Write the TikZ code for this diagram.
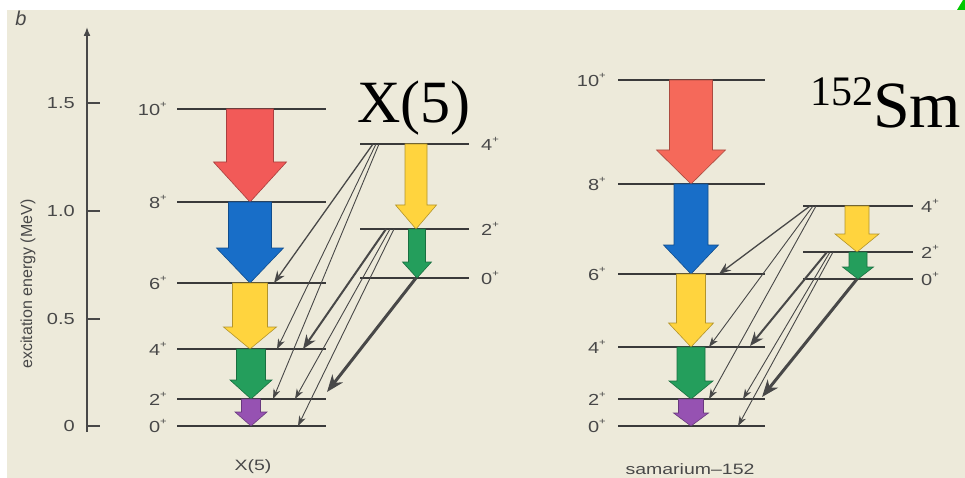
\documentclass[tikz,border=0pt]{standalone}
\usepackage{fontspec}
\setmainfont{Liberation Serif}
\newfontfamily\labfont[FakeStretch=1.25]{Liberation Sans}
\newfontfamily\botfont[FakeStretch=1.3]{Liberation Sans}
\newfontfamily\axfont{Liberation Sans}
\usetikzlibrary{arrows.meta}
\definecolor{paper}{RGB}{237,234,218}
\definecolor{ink}{RGB}{72,72,72}
\definecolor{lvl}{RGB}{58,58,58}
\definecolor{cred}{RGB}{242,90,88}
\definecolor{cred2}{RGB}{245,105,90}
\definecolor{cblue}{RGB}{24,110,200}
\definecolor{cyel}{RGB}{255,212,62}
\definecolor{cgrn}{RGB}{36,158,92}
\definecolor{cpur}{RGB}{150,82,178}
\definecolor{cgreen}{RGB}{0,200,0}
\newcommand\plus{\raisebox{0.5em}{\fontsize{9}{9}\selectfont +}}
\newcommand\bigarr[7]{%
  \filldraw[fill=#7, draw=#7!70!black, line width=0.6pt, line join=miter]
    (#1-#4,#2) -- (#1+#4,#2) -- (#1+#4,#6) -- (#1+#5,#6) -- (#1,#3)
    -- (#1-#5,#6) -- (#1-#4,#6) -- cycle;}
\tikzset{
  level/.style={draw=lvl, line width=1.9pt},
  axisline/.style={draw=ink, line width=1.6pt},
  ticklab/.style={font=\labfont\fontsize{16}{16}\selectfont, text=ink, inner sep=0pt, anchor=east},
  lvlab/.style={font=\labfont\fontsize{16}{16}\selectfont, text=ink, inner sep=0pt},
  botlab/.style={font=\botfont\fontsize{15}{15}\selectfont, text=ink, inner sep=0pt},
  thinarr/.style={draw=ink, line width=0.9pt, -{Stealth[length=10pt,width=7pt,inset=3pt]}},
  medarr/.style={draw=ink, line width=1.3pt, -{Stealth[length=12pt,width=9pt,inset=4pt]}},
  thickarr/.style={draw=ink, line width=2pt, -{Stealth[length=14pt,width=11pt,inset=4.5pt]}},
  vthickarr/.style={draw=ink, line width=3pt, -{Stealth[length=17pt,width=13pt,inset=5pt]}},
}
\begin{document}
\begin{tikzpicture}[x=1pt,y=-1pt]
\useasboundingbox (0,0) rectangle (965,478);
\fill[white] (0,0) rectangle (965,478);
\fill[paper] (7,10) rectangle (965,478);
\fill[cgreen] (957,10) -- (963,0) -- (965,0) -- (965,10) -- cycle;

% panel letter
\node[font=\axfont\itshape\fontsize{20}{20}\selectfont, text=ink, inner sep=0pt] (panelb) at (21,18) {b};

% axis
\coordinate (axbot) at (87,432);
\coordinate (axtop) at (87,27);
\draw[axisline, -{Latex[length=9pt,width=7pt]}] (axbot) -- (axtop);
\foreach \v/\y in {1.5/103, 1.0/211, 0.5/319, 0/426}{
  \draw[axisline] (87,\y) -- (100,\y);
  \node[ticklab] at (75,\y) {\v};
}
\node[rotate=90, font=\axfont\fontsize{16}{16}\selectfont, text=ink, inner sep=0pt] (ylab) at (28,284) {excitation energy (MeV)};

% ===== X(5) ground band =====
\foreach \j/\y in {10/109, 8/202, 6/283, 4/349, 2/399, 0/426}{
  \draw[level] (177,\y) -- (326,\y);
  \node[lvlab, anchor=east] at (167,\y) {\j\plus};
}
% X(5) beta band
\foreach \j/\y in {4/144, 2/229, 0/278}{
  \draw[level] (360,\y) -- (469,\y);
  \node[lvlab, anchor=west] at (481,\y) {\j\plus};
}
\bigarr{250}{109}{202}{23.5}{36.5}{162}{cred}
\bigarr{250}{202}{283}{21.5}{33.5}{248}{cblue}
\bigarr{250}{283}{349}{17.5}{26.5}{327}{cyel}
\bigarr{251}{349}{399}{14.5}{21}{380}{cgrn}
\bigarr{251}{399}{426}{9.5}{16}{412}{cpur}
\bigarr{416}{144}{229}{11}{20.5}{205}{cyel}
\bigarr{417}{229}{278}{8.5}{14.5}{262}{cgrn}

\coordinate (xa4a) at (373,144);
\coordinate (xa4b) at (376,144);
\coordinate (xa4c) at (379,144);
\coordinate (xb2a) at (386,229);
\coordinate (xb2b) at (390,229);
\coordinate (xb2c) at (394,229);
\coordinate (xc0)  at (416,278);
\coordinate (xg6)  at (274,283);
\coordinate (xg4a) at (277,349);
\coordinate (xg2a) at (273,399);
\coordinate (xg4b) at (303,349);
\coordinate (xg2b) at (295,399);
\coordinate (xg0)  at (298,426);
\coordinate (xg2c) at (327,392);
\draw[medarr] (xa4a) -- (xg6);
\draw[thinarr] (xa4b) -- (xg4a);
\draw[thinarr] (xa4c) -- (xg2a);
\draw[thickarr] (xb2a) -- (xg4b);
\draw[thinarr] (xb2b) -- (xg2b);
\draw[thinarr] (xb2c) -- (xg0);
\draw[vthickarr] (xc0) -- (xg2c);

% ===== Sm-152 ground band =====
\foreach \j/\y in {10/80, 8/184, 6/274, 4/347, 2/399, 0/426}{
  \draw[level] (618,\y) -- (765,\y);
  \node[lvlab, anchor=east] at (606,\y) {\j\plus};
}
\foreach \j/\y in {4/206, 2/252, 0/279}{
  \draw[level] (803,\y) -- (913,\y);
  \node[lvlab, anchor=west] at (921,\y) {\j\plus};
}
\bigarr{691}{80}{184}{21.5}{34.5}{150}{cred2}
\bigarr{691}{184}{274}{17}{27.5}{245}{cblue}
\bigarr{691}{274}{347}{14.5}{22.5}{323}{cyel}
\bigarr{691}{347}{399}{14}{22}{381}{cgrn}
\bigarr{691}{399}{426}{12.5}{17.5}{413}{cpur}
\bigarr{857}{206}{252}{12}{22}{234}{cyel}
\bigarr{858}{252}{279}{9}{15.5}{267}{cgrn}

\coordinate (sa4a) at (810,206);
\coordinate (sa4b) at (813,206);
\coordinate (sa4c) at (816,206);
\coordinate (sb2a) at (827,252);
\coordinate (sb2b) at (830,252);
\coordinate (sb2c) at (833,252);
\coordinate (sc0)  at (857,279);
\coordinate (sg6)  at (719,274);
\coordinate (sg4a) at (709,347);
\coordinate (sg2a) at (709,399);
\coordinate (sg4b) at (750,346);
\coordinate (sg2b) at (743,399);
\coordinate (sg0)  at (738,426);
\coordinate (sg2c) at (762,397);
\draw[medarr] (sa4a) -- (sg6);
\draw[thinarr] (sa4b) -- (sg4a);
\draw[thinarr] (sa4c) -- (sg2a);
\draw[thickarr] (sb2a) -- (sg4b);
\draw[thinarr] (sb2b) -- (sg2b);
\draw[thinarr] (sb2c) -- (sg0);
\draw[vthickarr] (sc0) -- (sg2c);

% titles
\node[anchor=base west, inner sep=0pt, font=\fontsize{60}{60}\selectfont] (tx5) at (357,123) {X(5)};
\node[anchor=base west, inner sep=0pt] (tsm) at (810,128)
  {{\fontsize{42}{42}\selectfont\raisebox{22pt}{152}}{\fontsize{66}{66}\selectfont Sm}};

% bottom labels
\node[botlab] (bx5) at (253,467) {X(5)};
\node[botlab] (bsm) at (690,469) {samarium–152};
\end{tikzpicture}
\end{document}
